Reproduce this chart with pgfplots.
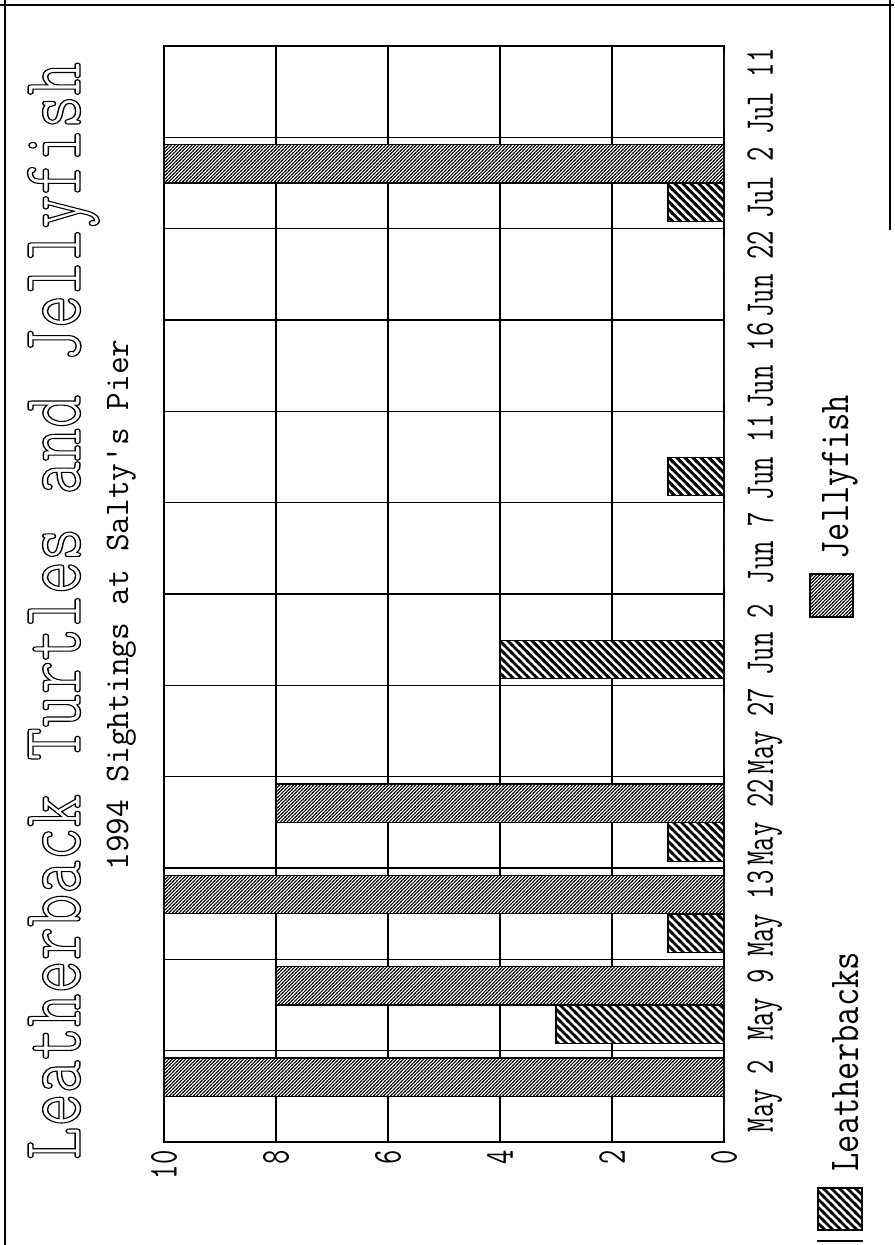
\documentclass[border=0pt]{standalone}
\usepackage{graphicx}
\usepackage{pgfplots}
\pgfplotsset{compat=1.18}
\usetikzlibrary{patterns}

% coarse "\\\" hatch for leatherbacks, fine "///" hatch for jellyfish
\pgfdeclarepatternformonly{leath}{\pgfqpoint{-1pt}{-1pt}}{\pgfqpoint{5pt}{5pt}}{\pgfqpoint{4pt}{4pt}}{
  \pgfsetlinewidth{1.4pt}
  \pgfpathmoveto{\pgfqpoint{-1pt}{5pt}}
  \pgfpathlineto{\pgfqpoint{5pt}{-1pt}}
  \pgfusepath{stroke}
}
\pgfdeclarepatternformonly{jelly}{\pgfqpoint{-0.5pt}{-0.5pt}}{\pgfqpoint{2.2pt}{2.2pt}}{\pgfqpoint{1.7pt}{1.7pt}}{
  \pgfsetlinewidth{0.45pt}
  \pgfpathmoveto{\pgfqpoint{-0.5pt}{-0.5pt}}
  \pgfpathlineto{\pgfqpoint{2.2pt}{2.2pt}}
  \pgfusepath{stroke}
}

\newcommand\lbl[1]{\scalebox{0.68}[1]{\fontsize{20.5}{24}\ttfamily\selectfont #1}}

\pgfplotstableread{
cat leath jelly
0  0  10
1  3  8
2  1  10
3  1  8
4  0  0
5  4  0
6  0  0
7  1  0
8  0  0
9  0  0
10 1  10
11 0  0
}\sightings

\begin{document}
\begin{tikzpicture}
\path[use as bounding box] (0,0) rectangle (447pt,622.5pt);

\begin{axis}[
  at={(82pt,51.5pt)}, anchor=south west,
  scale only axis, width=280pt, height=548pt,
  xbar, x dir=reverse,
  xmin=0, xmax=10, ymin=-0.5, ymax=11.5,
  bar width=0.42,
  xtick={0,2,4,6,8,10},
  xticklabels={\lbl{0},\lbl{2},\lbl{4},\lbl{6},\lbl{8},\lbl{10}},
  ytick={0,...,11},
  yticklabels={\lbl{May 2},\lbl{May 9},\lbl{May 13},\lbl{May 22},\lbl{May 27},\lbl{Jun 2},
               \lbl{Jun 7},\lbl{Jun 11},\lbl{Jun 16},\lbl{Jun 22},\lbl{Jul 2},\lbl{Jul 11}},
  minor ytick={0.5,1.5,...,10.5},
  yticklabel pos=right,
  xmajorgrids, yminorgrids,
  grid style={black, line width=0.6pt},
  major tick length=0pt, minor tick length=0pt,
  xticklabel style={rotate=90, anchor=east, inner sep=0pt},
  yticklabel style={rotate=90, anchor=north, inner sep=0pt},
  xticklabel shift=4pt, yticklabel shift=11.5pt,
  axis line style={black, line width=0.7pt},
]
\addplot[draw=black, line width=0.6pt, fill=white, postaction={pattern=leath}, bar shift=-0.215]
  table[x=leath, y=cat] {\sightings};
\addplot[draw=black, line width=0.6pt, fill=white, postaction={pattern=jelly}, bar shift=0.21]
  table[x=jelly, y=cat] {\sightings};
\end{axis}

\begin{scope}[x=0.5pt, y=-0.5pt, yshift=622.5pt]
  % titles (big one in outline letters)
  \node[rotate=90, anchor=base, inner sep=0pt] at (80,611)
    {\special{pdf:literal direct 1 Tr 0.7 w}\scalebox{0.76}[1]{\fontsize{42.5}{50}\ttfamily\selectfont Leatherback Turtles and Jellyfish}\special{pdf:literal direct 0 Tr}};
  \node[rotate=90, anchor=base, inner sep=0pt] at (128,605)
    {\fontsize{17.2}{20}\ttfamily\selectfont 1994 Sightings at Salty's Pier};
  % legend
  \draw[black, line width=0.6pt, fill=white, postaction={pattern=leath}] (818,1188) rectangle (862,1230);
  \node[rotate=90, anchor=base west, inner sep=0pt] at (858,1172)
    {\scalebox{0.835}[1]{\fontsize{21.3}{25}\ttfamily\selectfont Leatherbacks}};
  \draw[black, line width=0.6pt, fill=white, postaction={pattern=jelly}] (810,574) rectangle (853,617);
  \node[rotate=90, anchor=base west, inner sep=0pt] at (848,560)
    {\scalebox{0.835}[1]{\fontsize{21.3}{25}\ttfamily\selectfont Jellyfish}};
  % page frame remnants
  \draw[line width=0.6pt] (5,0) -- (5,1245);
  \draw[line width=0.6pt] (0,5) -- (894,5);
  \draw[line width=0.6pt] (890,0) -- (890,230);
  \draw[line width=0.6pt] (817,1241) -- (863,1241);
\end{scope}
\end{tikzpicture}
\end{document}
